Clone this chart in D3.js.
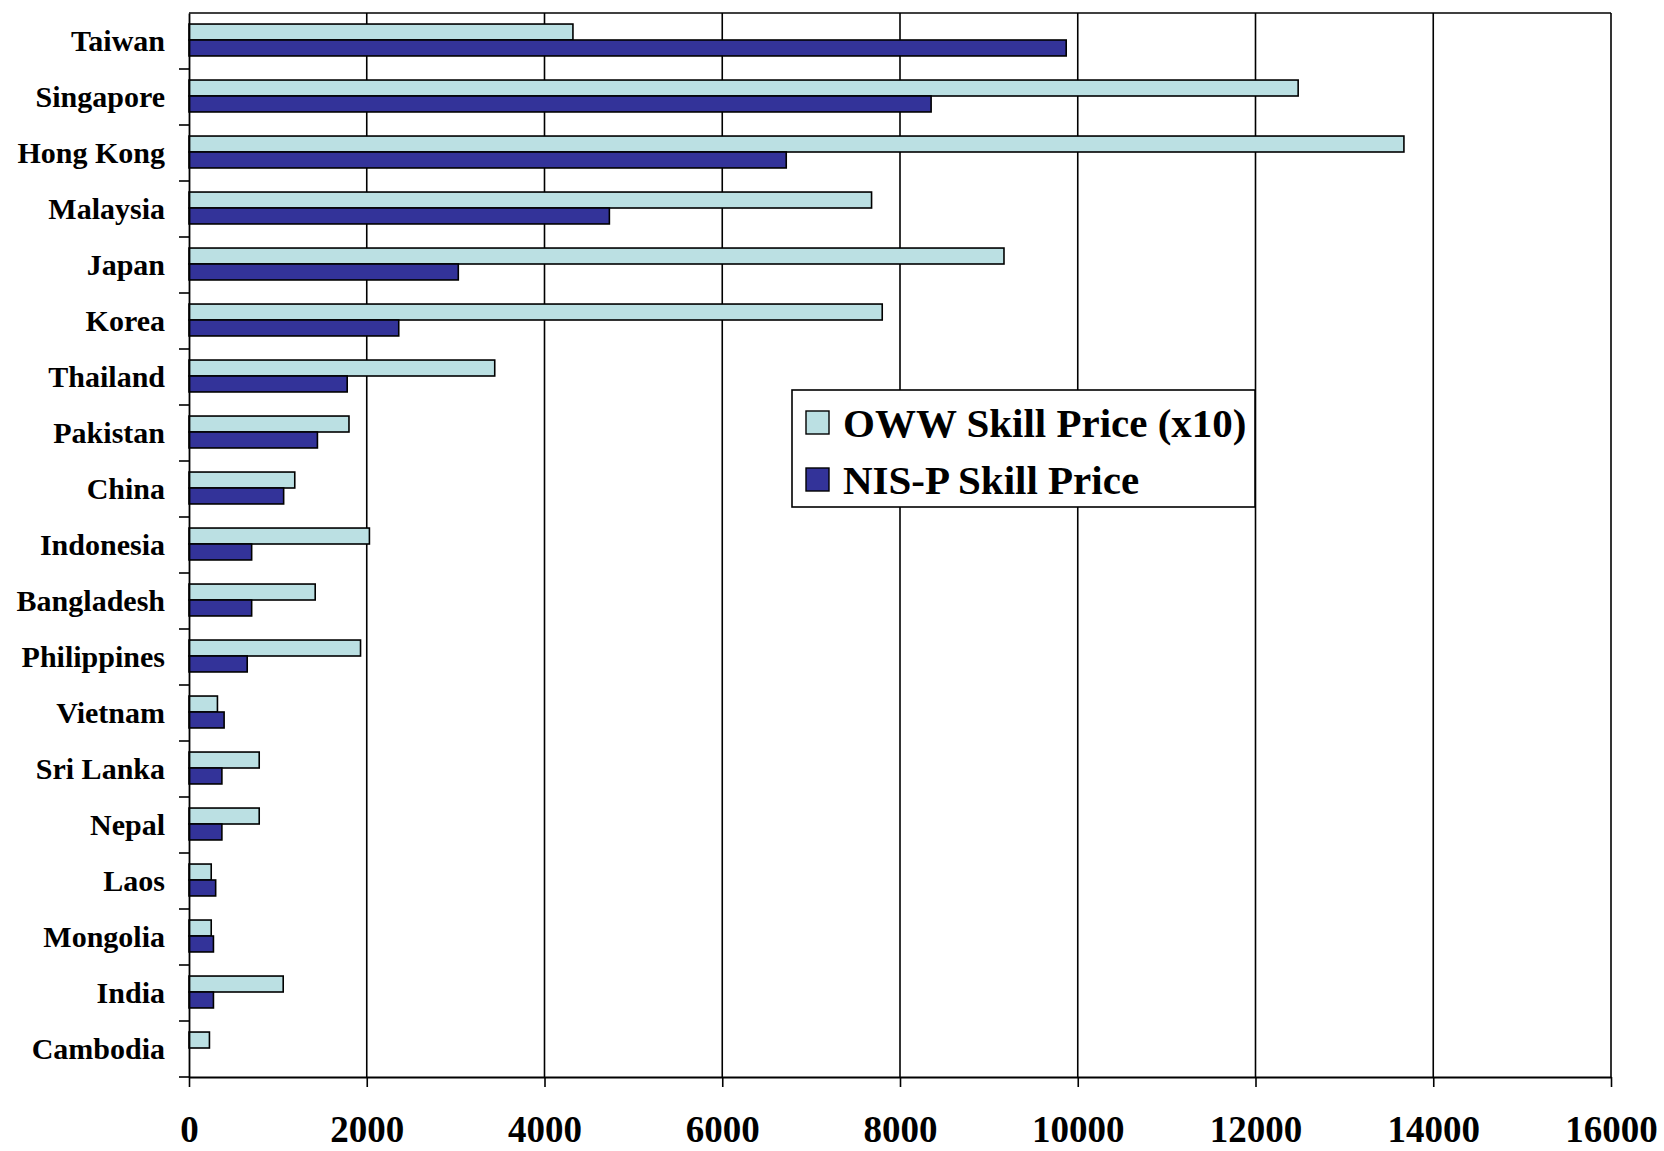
<!DOCTYPE html>
<html>
<head>
<meta charset="utf-8">
<script src="https://cdn.jsdelivr.net/npm/d3@7"></script>
<style>
  body { margin: 0; background: #fff; }
  text { font-family: "Liberation Serif", "Times New Roman", serif; font-weight: bold; fill: #000; }
</style>
</head>
<body>
<script>
// data
let categories = ["Taiwan", "Singapore", "Hong Kong", "Malaysia", "Japan", "Korea", "Thailand",
  "Pakistan", "China", "Indonesia", "Bangladesh", "Philippines", "Vietnam", "Sri Lanka",
  "Nepal", "Laos", "Mongolia", "India", "Cambodia"];
let owwValues = [4320, 12480, 13670, 7680, 9170, 7800, 3440, 1800, 1190, 2030, 1420, 1930,
  320, 790, 790, 250, 250, 1060, 230];
let nisValues = [9870, 8350, 6720, 4730, 3030, 2360, 1780, 1445, 1065, 705, 705, 655,
  395, 370, 370, 300, 275, 275, 0];
let seriesNames = ["OWW Skill Price (x10)", "NIS-P Skill Price"];
let xTicks = [0, 2000, 4000, 6000, 8000, 10000, 12000, 14000, 16000];

let colors = ["#bbe0e3", "#333399"];

let margin = {top: 13, right: 53, bottom: 74, left: 189},
    width = 1664 - margin.left - margin.right,
    height = 1151 - margin.top - margin.bottom;

let x = d3.scaleLinear().domain([0, 16000]).range([0, width]);
let y = d3.scaleBand().domain(categories).range([0, height])
    .paddingInner(0.43).paddingOuter(0.215);
let y1 = d3.scaleBand().domain([0, 1]).range([0, y.bandwidth()]);

let svg = d3.select("body").append("svg")
    .attr("width", 1664)
    .attr("height", 1151)
  .append("g")
    .attr("transform", "translate(" + margin.left + "," + margin.top + ")");

// vertical gridlines
svg.selectAll(".grid")
    .data(xTicks.slice(1))
    .enter().append("line")
    .attr("x1", d => x(d)).attr("x2", d => x(d))
    .attr("y1", 0).attr("y2", height)
    .attr("stroke", "#000").attr("stroke-width", 1.6);

// top border
svg.append("line")
    .attr("x1", 0).attr("x2", width).attr("y1", 0).attr("y2", 0)
    .attr("stroke", "#000").attr("stroke-width", 1.6);

// bars
let rows = categories.map((c, i) => ({c: c, v: [owwValues[i], nisValues[i]]}));
let g = svg.selectAll(".row")
    .data(rows)
    .enter().append("g")
    .attr("transform", d => "translate(0," + (y(d.c) - 1) + ")");
g.selectAll("rect")
    .data(d => d.v.map((v, k) => ({k: k, v: v})).filter(e => e.v > 0))
    .enter().append("rect")
    .attr("x", 0)
    .attr("y", e => y1(e.k))
    .attr("width", e => x(e.v))
    .attr("height", y1.bandwidth())
    .attr("fill", e => colors[e.k])
    .attr("stroke", "#000")
    .attr("stroke-width", 1.6);

// x axis
let xAxis = svg.append("g")
    .attr("transform", "translate(0," + height + ")")
    .call(d3.axisBottom(x).tickValues(xTicks).tickFormat(d3.format("d"))
      .tickSize(10).tickPadding(29).tickSizeOuter(0));
xAxis.select(".domain").attr("stroke-width", 1.8);
xAxis.selectAll(".tick line").attr("stroke-width", 1.6);
xAxis.selectAll("text").style("font-size", "37px");

// y axis (labels)
let yAxis = svg.append("g")
    .call(d3.axisLeft(y).tickSize(0).tickPadding(24));
yAxis.select(".domain").attr("stroke-width", 1.8);
yAxis.selectAll("text").style("font-size", "30px");

// y ticks at category boundaries
let bounds = d3.range(1, categories.length + 1).map(i => i * y.step());
svg.selectAll(".ytick")
    .data(bounds)
    .enter().append("line")
    .attr("x1", -10).attr("x2", 0)
    .attr("y1", d => d).attr("y2", d => d)
    .attr("stroke", "#000").attr("stroke-width", 1.6);

// legend
let legend = svg.append("g")
    .attr("transform", "translate(" + (792 - margin.left) + "," + (390 - margin.top) + ")");
legend.append("rect")
    .attr("width", 463).attr("height", 117)
    .attr("fill", "#fff").attr("stroke", "#000").attr("stroke-width", 1.6);
seriesNames.forEach(function(name, i) {
  legend.append("rect")
      .attr("x", 14).attr("y", 21 + i * 57)
      .attr("width", 23).attr("height", 23)
      .attr("fill", colors[i]).attr("stroke", "#000").attr("stroke-width", 1.4);
  legend.append("text")
      .attr("x", 51).attr("y", 33 + i * 57)
      .attr("dy", "0.35em")
      .style("font-size", "41px")
      .text(name);
});
</script>
</body>
</html>
